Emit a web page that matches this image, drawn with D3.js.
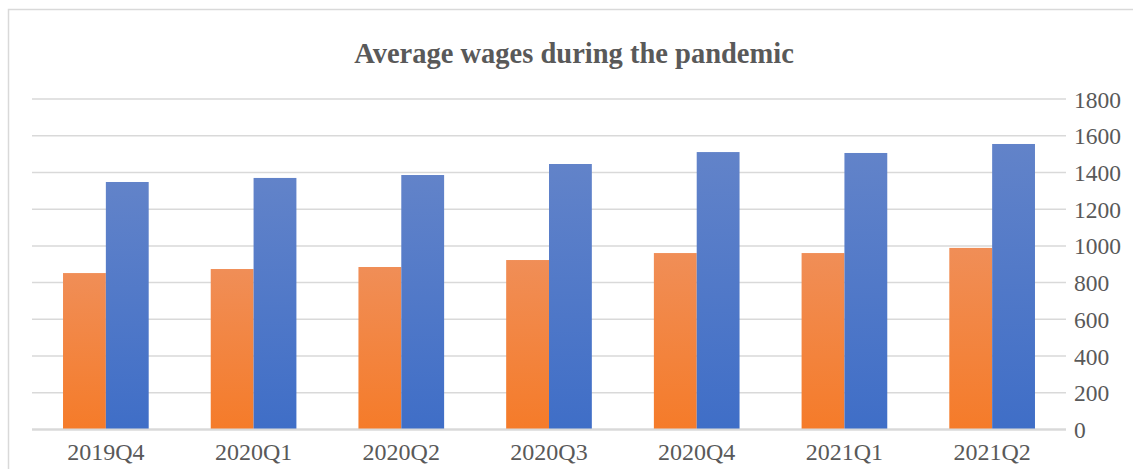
<!DOCTYPE html>
<html>
<head>
<meta charset="utf-8">
<script src="https://cdn.jsdelivr.net/npm/d3@7/dist/d3.min.js"></script>
<style>
  html, body { margin: 0; padding: 0; background: #fff; }
  svg { display: block; }
</style>
</head>
<body>
<svg id="chart" width="1133" height="469"></svg>
<script>
const title = "Average wages during the pandemic";
const categories = ["2019Q4", "2020Q1", "2020Q2", "2020Q3", "2020Q4", "2021Q1", "2021Q2"];
const seriesOrange = [852, 874, 885, 923, 961, 961, 989];
const seriesBlue = [1348, 1370, 1386, 1446, 1511, 1506, 1555];
const yTicks = [0, 200, 400, 600, 800, 1000, 1200, 1400, 1600, 1800];

const svg = d3.select("#chart");
const plot = { left: 32, right: 1066, top: 99, bottom: 429.5 };

const defs = svg.append("defs");
function grad(id, top, bottom) {
  const g = defs.append("linearGradient").attr("id", id)
    .attr("x1", 0).attr("y1", 0).attr("x2", 0).attr("y2", 1);
  g.append("stop").attr("offset", "0%").attr("stop-color", top);
  g.append("stop").attr("offset", "100%").attr("stop-color", bottom);
}
grad("gOrange", "#F08E57", "#F57B29");
grad("gBlue", "#6283C9", "#3F6EC7");

// chart border
svg.append("rect").attr("x", 8.5).attr("y", 9.5).attr("width", 1130).attr("height", 470)
  .attr("fill", "none").attr("stroke", "#D9D9D9").attr("stroke-width", 1.5);

const x = d3.scaleBand().domain(categories).range([plot.left, plot.right]).paddingInner(0).paddingOuter(0);
const y = d3.scaleLinear().domain([0, 1800]).range([plot.bottom, plot.top]);

// gridlines
svg.append("g").selectAll("line").data(yTicks).join("line")
  .attr("x1", plot.left).attr("x2", plot.right)
  .attr("y1", d => y(d)).attr("y2", d => y(d))
  .attr("stroke", "#D9D9D9").attr("stroke-width", d => d === 0 ? 2 : 1.5);

// bars
const barW = x.bandwidth() * 0.29;
const groups = svg.append("g");
groups.selectAll("rect.o").data(categories).join("rect").attr("class", "o")
  .attr("x", d => x(d) + x.bandwidth() / 2 - barW)
  .attr("width", barW)
  .attr("y", (d, i) => y(seriesOrange[i]))
  .attr("height", (d, i) => y(0) - y(seriesOrange[i]))
  .attr("fill", "url(#gOrange)");
groups.selectAll("rect.b").data(categories).join("rect").attr("class", "b")
  .attr("x", d => x(d) + x.bandwidth() / 2)
  .attr("width", barW)
  .attr("y", (d, i) => y(seriesBlue[i]))
  .attr("height", (d, i) => y(0) - y(seriesBlue[i]))
  .attr("fill", "url(#gBlue)");

// zero line above bars
svg.append("line").attr("x1", plot.left).attr("x2", plot.right)
  .attr("y1", y(0)).attr("y2", y(0)).attr("stroke", "#D9D9D9").attr("stroke-width", 2);

const font = "'Liberation Serif', 'Times New Roman', serif";

// y axis on right
const yAxis = d3.axisRight(y).tickValues(yTicks).tickSize(0).tickPadding(0).tickFormat(d3.format("d"));
const ya = svg.append("g").attr("transform", `translate(1074,0)`).call(yAxis);
ya.select(".domain").remove();
ya.selectAll("text").attr("font-family", font).attr("font-size", 23.5).attr("fill", "#595959").attr("dy", "0.34em");

// x axis
const xAxis = d3.axisBottom(x).tickSize(0).tickPadding(0);
const xa = svg.append("g").attr("transform", `translate(0,${plot.bottom})`).call(xAxis);
xa.select(".domain").remove();
xa.selectAll("text").attr("font-family", font).attr("font-size", 24).attr("fill", "#595959")
  .attr("y", 30).attr("dy", 0);

// title
svg.append("text").attr("x", (plot.left + plot.right) / 2 + 25).attr("y", 63)
  .attr("text-anchor", "middle").attr("font-family", font).attr("font-weight", "bold")
  .attr("font-size", 28.5).attr("fill", "#595959").text(title);
</script>
</body>
</html>
